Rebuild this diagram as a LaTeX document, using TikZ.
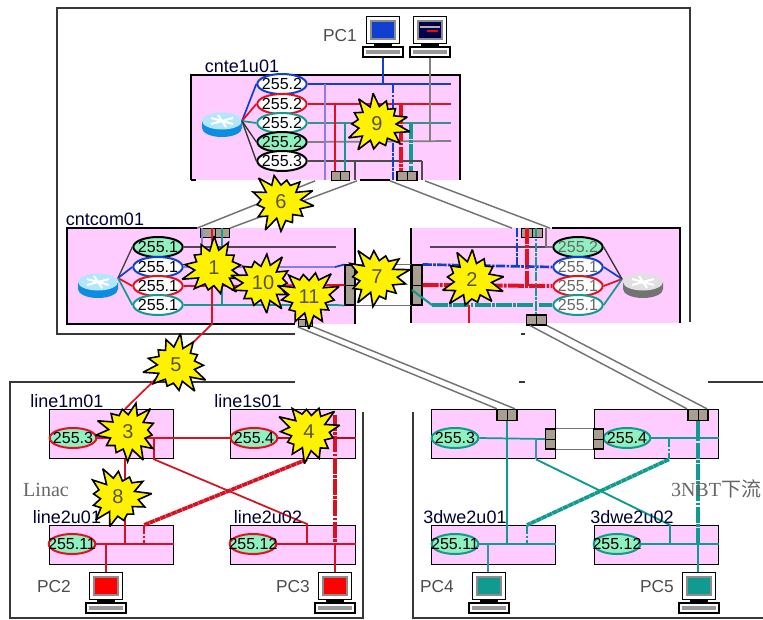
\documentclass[tikz,border=0pt]{standalone}
\usepackage{fontspec}
\setmainfont{Liberation Sans}
\newfontfamily\lserif{Liberation Serif}
\newfontfamily\cjkf{Noto Sans CJK SC}
\usetikzlibrary{shapes.geometric,calc}
\definecolor{cblue}{HTML}{1040D0}
\definecolor{cred}{HTML}{E41020}
\definecolor{cteal}{HTML}{109A90}
\definecolor{cgray}{HTML}{808080}
\definecolor{clav}{HTML}{8A7FE0}
\definecolor{caqua}{HTML}{8FF0C0}
\definecolor{cpink}{HTML}{FFCCFF}
\definecolor{csw}{HTML}{A89F90}
\definecolor{cdred}{HTML}{D81020}
\newcommand\ip[1]{\makebox[0pt]{\smash{\raisebox{-0.36em}{#1}}}}
\tikzset{
 x=0.75pt,y=-0.75pt,
 frameline/.style={draw=black!78,line width=1.4pt},
 edge1/.style={draw=black,line width=1pt},
 ipn/.style={ellipse,inner sep=0,minimum width=37pt,minimum height=15pt,line width=1.5pt,font=\fontsize{12}{12}\selectfont},
 wip/.style={ipn,fill=white,draw=#1},
 aip/.style={ipn,fill=caqua,draw=#1},
 rip/.style={ipn,fill=caqua,draw=cred,minimum width=35pt},
 thinl/.style={line width=1pt},
 medl/.style={line width=1.3pt},
 dd/.style={line width=2pt,dash pattern=on 7pt off 1pt on 2pt off 1pt},
 ddt/.style={line width=3pt,dash pattern=on 12pt off 1pt on 2pt off 1pt},
 jag/.style={line width=2.8pt,dash pattern=on 4pt off 0.4pt},
 glink/.style={draw=black!55,line width=1.1pt},
 swv/.style={rectangle,draw=black,fill=csw,line width=0.8pt,inner sep=0,
   path picture={\draw[line width=0.6pt] (path picture bounding box.north) -- (path picture bounding box.south);}},
 swh/.style={rectangle,draw=black,fill=csw,line width=0.8pt,inner sep=0,
   path picture={\draw[line width=0.6pt] (path picture bounding box.west) -- (path picture bounding box.east);}},
 burstshape/.style={fill=yellow,draw=black,line width=1.2pt,line join=miter,miter limit=3},
 burstlab/.style={inner sep=0,font=\fontsize{15}{15}\selectfont,text=black!70!yellow!80!black},
 lab/.style={inner sep=0,text=black!80!blue,font=\fontsize{13.5}{13.5}\selectfont},
 pclab/.style={inner sep=0,text=black!70,font=\fontsize{13}{13}\selectfont},
}
% name, x, y, text, seed
\newcommand\burstnode[5]{%
 \draw[burstshape,shift={(#2,#3)},yscale=0.94] plot[samples at={0,...,25},variable=\k]
   ({\k*13.846+#5*7}:{ifthenelse(mod(\k,2)==0,29+5*sin(137*\k+53*#5),19+1.5*sin(91*\k+31*#5))}) -- cycle;
 \node[burstlab] (#1) at (#2,#3) {#4};}
% name, x centre, y top, screen colour
\newcommand\pcicon[4]{%
 \begin{scope}[shift={(#2,#3)}]
  \node[draw=black,fill=white,line width=1pt,minimum width=25pt,minimum height=20pt,inner sep=0] (#1) at (0,13) {};
  \fill[black!45] (-13,3) rectangle (13,23);
  \fill[#4] (-11,5) rectangle (11,21);
  \fill[black] (-9,26) rectangle (9,31);
  \node[draw=black,fill=white,line width=1pt,minimum width=30pt,minimum height=7.5pt,inner sep=0] (#1kb) at (0,35) {};
  \fill[black!40] (-17,33) rectangle (17,37);
 \end{scope}}
% name, x centre, y centre, top, body
\newcommand\routericon[5]{%
 \begin{scope}[shift={(#2,#3)}]
  \fill[#5] (-20,-3) -- (-20,4) arc[x radius=20,y radius=9,start angle=180,end angle=0] -- (20,-3) -- cycle;
  \fill[#4] (0,-3) ellipse[x radius=20,y radius=8.5];
  \draw[white,line width=1.5pt] (-11,-6) -- (11,0) (-11,0) -- (11,-6) (-4,-9) -- (4,3);
  \coordinate (#1) at (0,-3);
 \end{scope}}
\newcommand\lbox[5]{\node[rectangle,fill=cpink,draw=#5,line width=1pt,inner sep=0,minimum width=#3*0.75pt,minimum height=#4*0.75pt,anchor=north west] (#1) at (#2) {};}
\begin{document}
\begin{tikzpicture}
\useasboundingbox (0,0) rectangle (763,619);
% outer frames
\coordinate (fa) at (57,8); \coordinate (fb) at (690,8); \coordinate (fc) at (690,322); \coordinate (fd) at (57,334); \coordinate (fe) at (295,334);
\draw[frameline] (fe) -- (fd) -- (fa) -- (fb) -- (fc);
\coordinate (ga) at (295,382); \coordinate (gb) at (10,382); \coordinate (gc) at (10,618); \coordinate (gd) at (363,618); \coordinate (ge) at (363,412);
\draw[frameline] (ga) -- (gb) -- (gc) -- (gd) -- (ge);
\coordinate (ha) at (413,412); \coordinate (hb) at (413,618); \coordinate (hc) at (763,618); \coordinate (hd) at (708,382); \coordinate (he) at (763,382);
\draw[frameline] (ha) -- (hb) -- (hc);
\draw[frameline] (hd) -- (he);
\coordinate (ma) at (519,382); \coordinate (mb) at (525,382); \draw[frameline] (ma) -- (mb);
\coordinate (na) at (521,334); \coordinate (nb) at (525,334); \draw[frameline] (na) -- (nb);

% pink boxes
\fill[cpink] (191,75) rectangle (460,180); \coordinate (tbnw) at (191,75); \coordinate (tbne) at (460,75); \coordinate (tbse) at (460,180); \coordinate (tbsw) at (191,180);
\fill[cpink] (67,228) rectangle (355,324); \coordinate (lbnw) at (67,228); \coordinate (lbne) at (355,228); \coordinate (lbse) at (355,324); \coordinate (lbsw) at (67,324);
\fill[cpink] (411,228) rectangle (680,323); \coordinate (rbnw) at (411,228); \coordinate (rbne) at (680,228); \coordinate (rbse) at (680,323); \coordinate (rbsw) at (411,323);
\draw[edge1] (tbsw) -- (tbnw) -- (tbne) -- (tbse);
\draw[edge1] (191,180) -- (196,180) (360,180) -- (390,180);
\draw[edge1] (197,228) -- (lbnw) -- (lbsw) -- (295,324);
\draw[edge1] (lbne) -- (lbse);
\draw[edge1] (rbsw) -- (rbnw);
\draw[edge1] (552,228) -- (rbne) -- (rbse);

% lower boxes
\lbox{b1}{49,409}{124}{49}{black}
\lbox{b2}{230,409}{125}{49}{black}
\lbox{b3}{49,525}{124}{39}{black}
\lbox{b4}{230,525}{125}{39}{black}
\lbox{b5}{431,409}{124}{49}{black}
\lbox{b6}{594,409}{124}{49}{black}
\lbox{b7}{431,525}{124}{39}{black}
\lbox{b8}{594,525}{124}{39}{black}
\fill[cpink] (432,409.6) rectangle (495,411);
\fill[white] (430,406) rectangle (496,409);

% ellipses
\node[wip=cblue] (t1) at (282,84) {\ip{255.2}};
\node[wip=cred] (t2) at (282,104) {\ip{255.2}};
\node[wip=cteal] (t3) at (282,123) {\ip{255.2}};
\node[aip=black] (t4) at (282,142) {\ip{255.2}};
\node[wip=black] (t5) at (282,161) {\ip{255.3}};
\node[aip=black] (l1) at (158,247) {\ip{255.1}};
\node[wip=cblue] (l2) at (158,267) {\ip{255.1}};
\node[wip=cred] (l3) at (158,286) {\ip{255.1}};
\node[wip=cteal] (l4) at (158,305) {\ip{255.1}};
\node[aip=black] (r1) at (578,247) {\ip{\textcolor{black!60}{255.2}}};
\node[wip=cblue] (r2) at (578,267) {\ip{\textcolor{black!60}{255.1}}};
\node[wip=cred] (r3) at (578,286) {\ip{\textcolor{black!60}{255.1}}};
\node[wip=cteal] (r4) at (578,305) {\ip{\textcolor{black!60}{255.1}}};
\node[rip] (p1) at (73,438) {\ip{255.3}};
\node[rip] (p2) at (254,438) {\ip{255.4}};
\node[rip] (p3) at (72,544) {\ip{255.11}};
\node[rip] (p4) at (253,544) {\ip{255.12}};
\node[aip=cteal,minimum width=35pt] (q1) at (455,438) {\ip{255.3}};
\node[aip=cteal,minimum width=35pt] (q2) at (627,438) {\ip{255.4}};
\node[aip=cteal,minimum width=35pt] (q3) at (455,544) {\ip{255.11}};
\node[aip=cteal,minimum width=35pt] (q4) at (617,544) {\ip{255.12}};

% routers
\routericon{ra}{222}{124}{cyan!30!white}{cblue!60!cyan}
\routericon{rb}{98}{285}{cyan!30!white}{cblue!60!cyan}
\routericon{rc}{643}{285}{black!12}{black!55}
\coordinate (rae) at (242,121); \coordinate (rbe) at (118,278); \coordinate (rcw) at (622,279);

% PCs
\pcicon{pc1}{383}{17}{cblue}
\pcicon{pcs}{430}{17}{black!70!blue}
\fill[red] (427,30) rectangle (438,31.5);
\fill[white!70!black] (420,26) rectangle (440,28);
\pcicon{pc2}{106}{573}{red}
\pcicon{pc3}{335}{573}{red}
\pcicon{pc4}{489}{573}{cteal}
\pcicon{pc5}{699}{573}{cteal}

% switches
\node[swv,minimum width=14pt,minimum height=6.5pt] (s1) at (340.5,176) {};
\node[swv,minimum width=15pt,minimum height=6.5pt] (s2) at (407,176) {};
\node[swv,minimum width=22pt,minimum height=6.5pt] (s3) at (215,233) {};
\node[swv,minimum width=16pt,minimum height=6.5pt] (s4) at (532,233) {};
\node[swv,minimum width=15pt,minimum height=7.5pt] (s5) at (536.5,320) {};
\node[swv,minimum width=11pt,minimum height=5pt] (s6) at (305.5,323) {};
\node[swh,minimum width=7.5pt,minimum height=30pt] (s7) at (350,285) {};
\node[swh,minimum width=7.5pt,minimum height=30pt] (s8) at (417,285) {};
\node[swv,minimum width=15pt,minimum height=8.5pt] (s9) at (507,415) {};
\node[swv,minimum width=15pt,minimum height=8.5pt] (s10) at (698,415) {};
\node[swh,minimum width=7pt,minimum height=15pt] (s11) at (550.5,439) {};
\node[swh,minimum width=7pt,minimum height=15pt] (s12) at (598.5,439) {};

% long gray links
\draw[glink] (s1.south west -| 315,0) -- (s3.north west -| 197,0);
\draw[glink] (s1.south east -| 357,0) -- (s3.north east -| 230,0);
\draw[glink] (s2.south west -| 390,0) -- (s4.north west -| 512,0);
\draw[glink] (s2.south east -| 425,0) -- (s4.north east -| 550,0);
\draw[glink] (s6.south west) -- (s9.north west -| 497,0);
\draw[glink] (s6.south east) -- (s9.north east -| 515,0);
\draw[glink] (s5.south west -| 530,0) -- (s10.north west -| 687,0);
\draw[glink] (s5.south east -| 547,0) -- (s10.north east -| 707,0);
\draw[glink] (s7.north east) -- (s8.north west);
\draw[glink] (s7.south east) -- (s8.south west);
\draw[glink] (s11.north east) -- (s12.north west);
\draw[glink] (s11.south east) -- (s12.south west);

% top box wiring
\draw[cblue,medl] (rae) -- (t1.west);
\draw[cred,medl] (rae) -- (t2.west);
\draw[cteal,medl] (rae) -- (t3.west);
\draw[black!80,thinl] (rae) -- (t4.west);
\draw[black!80,thinl] (rae) -- (t5.west);
\coordinate (e1) at (451,84); \coordinate (e2) at (451,104); \coordinate (e3) at (451,123); \coordinate (e4) at (451,141);
\draw[cblue,medl] (t1.east) -- (e1);
\draw[cred,medl] (t2.east) -- (e2);
\draw[cteal!60!gray,medl] (t3.east) -- (e3);
\draw[black!50,line width=1.3pt] (t4.east) -- (e4);
\draw[black!70,medl] (t5.east) -- (t5.east -| 422,0);
\draw[black!70,medl] (t5.east -| 355,0) -- (355,180);
\draw[black!70,medl] (t5.east -| 422,0) -- (422,180);
\draw[clav,line width=1.8pt] (t1.east -| 325,0) -- (325,180);
\draw[cred,medl] (t2.east -| 335,0) -- (s1.north -| 335,0);
\draw[cteal,medl] (t3.east -| 345,0) -- (s1.north -| 345,0);
\draw[cblue,dd] (t1.east -| 393,0) -- (393,180);
\draw[cred,ddt] (t2.east -| 401,0) -- (s2.north -| 401,0);
\draw[cteal,ddt] (t3.east -| 411,0) -- (s2.north -| 411,0);
\draw[cblue,medl] (pc1kb.south) -- (t1.east -| pc1kb.south);
\draw[black!50,medl] (pcskb.south) -- (e4 -| pcskb.south);

% left box wiring
\draw[black!75,thinl] (rbe) -- (l1.west);
\draw[cblue,medl] (rbe) -- (l2.west);
\draw[cred,medl] (rbe) -- (l3.west);
\draw[cteal,medl] (rbe) -- (l4.west);
\coordinate (f1) at (336,247); \coordinate (f2) at (335,267); \coordinate (f4) at (337,305);
\draw[black!45!cpink!60!black,line width=1.7pt] (l1.east) -- (f1);
\draw[clav,line width=1.7pt] (l2.east) -- (f2);
\draw[cblue,medl] (f2) -- (s7.north west);
\draw[cred,medl] (l3.east) -- (s7.west);
\draw[cteal,medl] (l4.east) -- (f4) -- (s7.south west);
\draw[clav,line width=1.6pt] (s3.north -| 202,0) -- (l2.east -| 202,0);
\draw[cred,medl] (s3.north -| 212,0) -- (212,324) -- (b1.north -| 125,0);
\draw[cteal,medl] (s3.north -| 222,0) -- (l4.east -| 222,0);

% right box wiring
\draw[black!45!cpink!60!black,line width=1.7pt] (r1.west) -- (430,247);
\draw[cblue,dd] (s8.north east) -- (r2.west);
\draw[cred,ddt] (s8.east) -- (r3.west);
\draw[cteal,ddt] (432,305) -- (r4.west);
\draw[cteal,line width=1.6pt] (412,290) -- (432,305);
\draw[cblue,medl] (rcw) -- (r2.east);
\draw[cred,medl] (rcw) -- (r3.east);
\draw[cteal,medl] (rcw) -- (r4.east);
\draw[black!80,thinl] (rcw) -- (r1.east);
\draw[cblue,dd] (s4.north -| 517,0) -- (517,267);
\draw[cred,ddt] (s4.north -| 527,0) -- (527,286);
\draw[cteal,dd] (s4.north -| 536,0) -- (s5.north -| 536,0);
\draw[black!55,medl] (s4.north -| 546,0) -- (546,247) -- (r1.west);
\draw[cred,line width=2.2pt] (469,305) -- (469,323);

% lower left wiring
\draw[cred,medl] (p1.east) -- (p2.west);
\draw[cred!80!black,medl] (p2.east) -- (b2.east |- p2);
\draw[cdred,medl] (b1.south -| 125,0) -- (p3.east -| 125,0);
\draw[cdred,medl] (p1.east -| 154,0) -- (b1.south -| 154,0) -- (307,524) -- (p4.east -| 307,0);
\draw[cdred,jag] (b2.south -| 307,0) -- (b3.north -| 144,0);
\draw[cdred,dd] (b3.north -| 144,0) -- (p3.east -| 144,0);
\draw[cdred,ddt] (335,415) -- (p4.east -| 335,0);
\draw[cdred,medl] (p4.east -| 335,0) -- (pc3.north);
\draw[cdred,medl] (p3.east) -- (b3.east |- p3);
\draw[cdred,medl] (p4.east) -- (b4.east |- p4);
\draw[cdred,medl] (p3.east -| 106,0) -- (pc2.north);

% lower right wiring
\draw[cteal,medl] (q1.east) -- (s11.west);
\draw[cteal,medl] (q2.east) -- (b6.east |- q2);
\draw[cteal,medl] (s9.south) -- (q3.east -| s9.south);
\draw[clav!40!cteal,line width=1.5pt] (q1.east -| 536,0) -- (b5.south -| 536,0);
\draw[cteal,line width=1.4pt] (b5.south -| 536,0) -- (b8.north -| 670,0) -- (q4.east -| 670,0);
\draw[cteal,jag] (b6.south -| 669,0) -- (b7.north -| 527,0);
\draw[cteal,dd] (b7.north -| 527,0) -- (q3.east -| 527,0);
\draw[cteal,dd] (q2.east -| 669,0) -- (b6.south -| 669,0);
\draw[cteal,ddt] (s10.south) -- (q4.east -| s10.south);
\draw[cteal,medl] (q4.east -| 698,0) -- (pc5.north -| 698,0);
\draw[cteal,medl] (q3.east) -- (b7.east |- q3);
\draw[cteal,medl] (q4.east) -- (b8.east |- q4);
\draw[clav!30!cteal,line width=1.4pt] (q3.east -| 488,0) -- (pc4.north -| 488,0);

% labels
\node[lab] (n1) at (242,66) {cnte1u01};
\node[pclab] (n2) at (340,36) {PC1};
\node[lab] (n3) at (105,219) {cntcom01};
\node[lab] (n4) at (67,401) {line1m01};
\node[lab] (n5) at (248,401) {line1s01};
\node[lab] (n6) at (67,517) {line2u01};
\node[lab] (n7) at (268,517) {line2u02};
\node[lab] (n8) at (465,517) {3dwe2u01};
\node[lab] (n9) at (632,517) {3dwe2u02};
\node[pclab] (n10) at (54,587) {PC2};
\node[pclab] (n11) at (293,587) {PC3};
\node[pclab] (n12) at (437,587) {PC4};
\node[pclab] (n13) at (657,587) {PC5};
\node[inner sep=0,text=black!60,font=\lserif\fontsize{15}{15}\selectfont] (n14) at (46,490) {Linac};
\node[inner sep=0,text=black!60,font=\lserif\fontsize{15}{15}\selectfont] (n15) at (716,489) {3NBT{\cjkf 下流}};

% stars
\burstnode{x6}{281}{202}{6}{1}
\burstnode{x9}{377}{124}{9}{2}
\burstnode{x1}{214}{268}{1}{3}
\burstnode{x10}{263}{283}{10}{4}
\burstnode{x11}{309}{297}{11}{5}
\burstnode{x7}{377}{277}{7}{6}
\burstnode{x2}{472}{280}{2}{7}
\burstnode{x5}{176}{365}{5}{8}
\burstnode{x3}{128}{432}{3}{9}
\burstnode{x4}{309}{432}{4}{10}
\burstnode{x8}{118}{497}{8}{11}
\end{tikzpicture}
\end{document}
